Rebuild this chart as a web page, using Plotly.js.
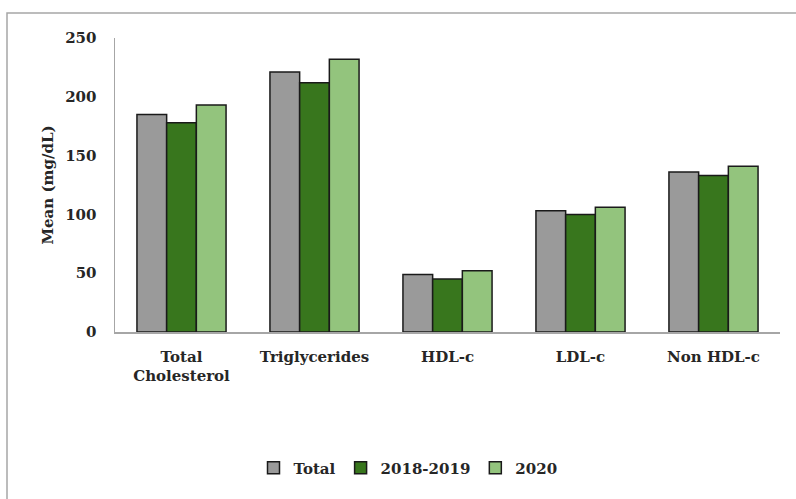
<!DOCTYPE html>
<html>
<head>
<meta charset="utf-8">
<script src="https://cdn.plot.ly/plotly-3.0.1.min.js"></script>
<style>
html,body{margin:0;padding:0;background:#fff;}
#chart{width:796px;height:499px;}
</style>
</head>
<body>
<div id="chart"></div>
<script>
const categories = ["Total<br>Cholesterol", "Triglycerides", "HDL-c", "LDL-c", "Non HDL-c"];
const seriesNames = ["Total", "2018-2019", "2020"];
const totalValues = [185, 221, 49, 103, 136];
const period1819Values = [178, 212, 45, 100, 133];
const period2020Values = [193, 232, 52, 106, 141];
const yTickValues = [0, 50, 100, 150, 200, 250];
const colors = ["#9a9a9a", "#38761d", "#93c47d"];

const fontFamily = '"DejaVu Serif", "Liberation Serif", serif';
const valueSets = [totalValues, period1819Values, period2020Values];

const traces = seriesNames.map((name, i) => ({
  type: 'bar',
  name: name,
  x: categories,
  y: valueSets[i],
  marker: {color: colors[i], line: {color: '#1a1a1a', width: 1.5}},
  hoverinfo: 'x+y+name'
}));

const W = 796, H = 499;
const ml = 115, mr = 16, mt = 38, mb = 167;
const pw = W - ml - mr, ph = H - mt - mb;
const px = v => (v - ml) / pw;
const py = v => (H - mb - v) / ph;

const layout = {
  width: W, height: H,
  margin: {l: ml, r: mr, t: mt, b: mb, pad: 0},
  paper_bgcolor: '#ffffff',
  plot_bgcolor: '#ffffff',
  font: {family: fontFamily, size: 14, color: '#262626', weight: 'bold'},
  barmode: 'group',
  bargap: 0.33,
  bargroupgap: 0,
  showlegend: true,
  legend: {
    orientation: 'h',
    x: px(408), xanchor: 'center',
    y: py(468), yanchor: 'middle',
    font: {family: fontFamily, size: 15, color: '#262626', weight: 'bold'},
    itemwidth: 30,
    traceorder: 'normal'
  },
  xaxis: {
    type: 'category',
    showline: true, linecolor: '#a6a6a6', linewidth: 1.5,
    showgrid: false, zeroline: false,
    ticks: '',
    ticklabelstandoff: 10,
    tickfont: {family: fontFamily, size: 15, color: '#262626', weight: 'bold'}
  },
  yaxis: {
    range: [0, 250],
    tickvals: yTickValues,
    ticktext: yTickValues.map(String),
    showline: true, linecolor: '#a6a6a6', linewidth: 1.5,
    showgrid: false, zeroline: false,
    ticks: '',
    ticklabelstandoff: 14,
    tickfont: {family: fontFamily, size: 15, color: '#262626', weight: 'bold'},
    title: {text: 'Mean (mg/dL)', standoff: 8, font: {family: fontFamily, size: 15, color: '#262626', weight: 'bold'}}
  },
  shapes: [{
    type: 'rect', xref: 'paper', yref: 'paper',
    x0: px(7), x1: px(810), y0: py(520), y1: py(13),
    line: {color: '#a6a6a6', width: 1.5},
    fillcolor: 'rgba(0,0,0,0)', layer: 'below'
  }]
};

Plotly.newPlot('chart', traces, layout, {displayModeBar: false, staticPlot: true});
</script>
</body>
</html>
